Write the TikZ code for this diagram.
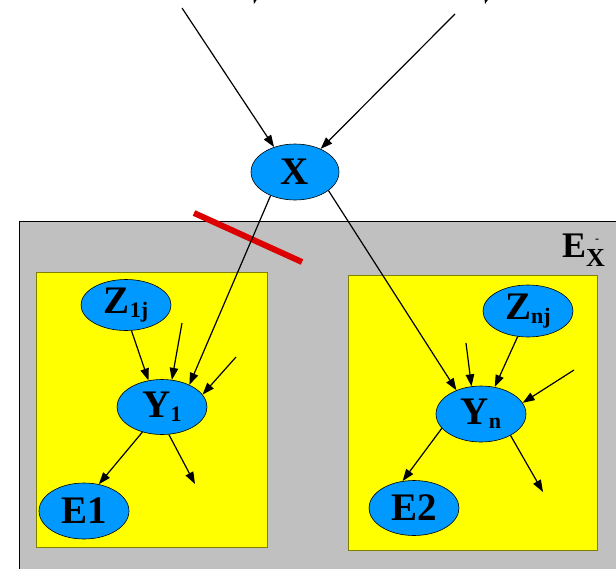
\documentclass[tikz,border=0pt]{standalone}
\usepackage{fontspec}
\setmainfont{Liberation Serif}
\usetikzlibrary{shapes.geometric,arrows.meta}
\definecolor{nodeblue}{RGB}{0,153,255}
\definecolor{boxyellow}{RGB}{255,255,0}
\definecolor{boxedge}{RGB}{128,128,0}
\definecolor{plategray}{RGB}{192,192,192}
\definecolor{cutred}{RGB}{221,0,0}
\newcommand{\mysub}[1]{\raisebox{-4pt}{\fontsize{22}{22}\selectfont #1}}
\tikzset{
  var/.style={ellipse, draw=black, line width=0.6pt, fill=nodeblue, minimum width=90pt, minimum height=55pt, inner sep=0pt, font=\fontsize{39}{39}\selectfont\bfseries},
  evid/.style={var, font=\fontsize{39}{39}\selectfont\bfseries},
  arr/.style={line width=1.2pt, -{Triangle[length=12pt,width=8.5pt]}},
  plate/.style={fill=boxyellow, draw=boxedge, line width=0.8pt},
}
\begin{document}
\begin{tikzpicture}[x=1pt,y=-1pt]
\useasboundingbox (0,0) rectangle (616,568);
\clip (0,0) rectangle (616,568);
% gray region
\draw[fill=plategray, draw=black, line width=1pt] (19,221) rectangle (640,600);
% yellow plates
\draw[plate] (36,272) rectangle (267,547);
\draw[plate] (348,275) rectangle (597,550);
% label
\node[anchor=base west, inner sep=0pt, font=\fontsize{36}{36}\selectfont\bfseries] (ex) at (562,257)
  {E\rlap{\raisebox{15pt}{\fontsize{12}{12}\selectfont\hspace{9pt}-}}\raisebox{-9pt}{\fontsize{26}{26}\selectfont X}};
% red cut line
\draw[cutred, line width=6pt] (194,213) -- (302,262);
% nodes
\node[var, minimum width=88pt, minimum height=56pt] (X) at (295,172) {X};
\node[var, minimum height=51pt] (Z1) at (126,305) {Z\mysub{1j}};
\node[var, minimum height=52pt] (Zn) at (528,311) {Z\mysub{nj}};
\node[var] (Y1) at (162,407) {Y\mysub{1}};
\node[var, minimum height=56pt] (Yn) at (481,414) {Y\mysub{n}};
\node[evid, minimum height=56pt] (E1) at (84,511) {E1};
\node[evid] (E2) at (414,508) {E2};
% free ends
\coordinate (tl) at (182,8);
\coordinate (tr) at (455,14);
\coordinate (ftl) at (262,-30);
\coordinate (ftle) at (254,4);
\coordinate (ftr) at (494,-30);
\coordinate (ftre) at (485,4);
\coordinate (y1a) at (182,323);
\coordinate (y1b) at (236,357);
\coordinate (y1c) at (195,484);
\coordinate (yna) at (466,343);
\coordinate (ynb) at (574,370);
\coordinate (ync) at (543,492);
% edges
\draw[arr] (ftl) -- (ftle);
\draw[arr] (ftr) -- (ftre);
\draw[arr] (tl) -- (X.130);
\draw[arr] (tr) -- (X.42);
\draw[arr] (X.224) -- (Y1.39);
\draw[arr] (X.331) -- (Yn.136);
\draw[arr] (Z1.282) -- (Y1.117);
\draw[arr] (y1a) -- (Y1.70);
\draw[arr] (y1b) -- (Y1.17);
\draw[arr] (Y1.232) -- (E1.61);
\draw[arr] (Y1.284) -- (y1c);
\draw[arr] (Zn.248) -- (Yn.63);
\draw[arr] (yna) -- (Yn.109);
\draw[arr] (ynb) -- (Yn.15);
\draw[arr] (Yn.200) -- (E2.113);
\draw[arr] (Yn.324) -- (ync);
\end{tikzpicture}
\end{document}
